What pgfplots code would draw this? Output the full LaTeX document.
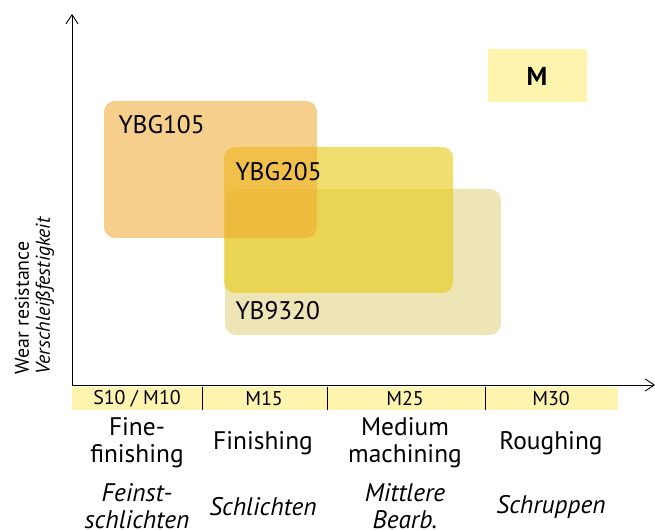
\documentclass[border=0pt]{standalone}
\usepackage{pgfplots}
\pgfplotsset{compat=1.18}
\usepackage{fontspec}
\setmainfont{PT Sans}
\usetikzlibrary{arrows.meta}
\definecolor{bandyellow}{HTML}{FFF4AE}
\definecolor{c105}{HTML}{F0A830}
\definecolor{c205}{HTML}{E8CC20}
\definecolor{c9320}{HTML}{DBCB6B}
\begin{document}
\begin{tikzpicture}
\begin{axis}[
  scale only axis, width=655bp, height=530bp,
  xmin=0, xmax=655, ymin=0, ymax=530, y dir=reverse,
  hide axis, clip=false,
]
% rectangles
\addplot[draw=none, fill=c9320, fill opacity=0.5, rounded corners=11bp] coordinates {(225,189) (501,189) (501,335) (225,335)} -- cycle;
\addplot[draw=none, fill=c205, fill opacity=0.65, rounded corners=11bp] coordinates {(224,147) (453,147) (453,293) (224,293)} -- cycle;
\addplot[draw=none, fill=c105, fill opacity=0.55, rounded corners=11bp] coordinates {(104,101) (317,101) (317,238) (104,238)} -- cycle;
% M box
\addplot[draw=none, fill=bandyellow] coordinates {(488,49) (587,49) (587,102) (488,102)} -- cycle;
% band
\addplot[draw=none, fill=bandyellow] coordinates {(72,387) (618,387) (618,410) (72,410)} -- cycle;
\addplot[black, line width=0.8bp] coordinates {(202,387) (202,410)};
\addplot[black, line width=0.8bp] coordinates {(327,387) (327,410)};
\addplot[black, line width=0.8bp] coordinates {(485,387) (485,410)};
% axes
\addplot[black, line width=0.9bp, -{Straight Barb[length=9bp, width=12bp]}] coordinates {(72,385) (72,14)};
\addplot[black, line width=0.9bp, -{Straight Barb[length=9bp, width=12bp]}] coordinates {(72,385) (655,385)};
% texts
\node[anchor=west, font=\fontsize{25.5}{28}\selectfont] at (axis cs:115,125) {YBG105};
\node[anchor=west, font=\fontsize{25.5}{28}\selectfont] at (axis cs:232,172) {YBG205};
\node[anchor=west, font=\fontsize{25.5}{28}\selectfont] at (axis cs:232,311) {YB9320};
\node[font=\fontsize{26}{28}\selectfont\bfseries] at (axis cs:537,76) {M};
\node[font=\fontsize{20}{22}\selectfont] at (axis cs:137,399) {S10 / M10};
\node[font=\fontsize{20}{22}\selectfont] at (axis cs:264,399) {M15};
\node[font=\fontsize{20}{22}\selectfont] at (axis cs:405,399) {M25};
\node[font=\fontsize{20}{22}\selectfont] at (axis cs:551,399) {M30};
\node[align=center, font=\fontsize{25.5}{27}\selectfont] at (axis cs:137,443) {Fine-\\finishing};
\node[align=center, font=\fontsize{25.5}{27}\selectfont] at (axis cs:263,443) {Finishing};
\node[align=center, font=\fontsize{25.5}{27}\selectfont] at (axis cs:405,443) {Medium\\machining};
\node[align=center, font=\fontsize{25.5}{27}\selectfont] at (axis cs:551,443) {Roughing};
\node[align=center, font=\fontsize{25.5}{27}\selectfont\itshape] at (axis cs:137,506) {Feinst-\\schlichten};
\node[align=center, font=\fontsize{25.5}{27}\selectfont\itshape] at (axis cs:263,507) {Schlichten};
\node[align=center, font=\fontsize{25.5}{27}\selectfont\itshape] at (axis cs:405,506) {Mittlere\\Bearb.};
\node[align=center, font=\fontsize{25.5}{27}\selectfont\itshape] at (axis cs:551,507) {Schruppen};
\node[rotate=90, anchor=west, font=\fontsize{20}{22}\selectfont] at (axis cs:22,378) {Wear resistance};
\node[rotate=90, anchor=west, font=\fontsize{20}{22}\selectfont\itshape] at (axis cs:45,378) {Verschleißfestigkeit};
\end{axis}
\pgfresetboundingbox
\path (current axis.south west) rectangle (current axis.north east);
\end{tikzpicture}
\end{document}
